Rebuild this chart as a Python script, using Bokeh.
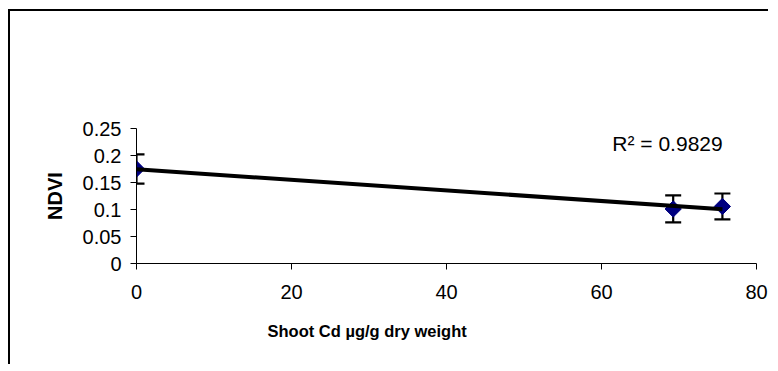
import numpy as np
from bokeh.plotting import figure
from bokeh.models import ColumnDataSource, Whisker, TeeHead, Label, FixedTicker, Range1d, Title
from bokeh.embed import file_html
from bokeh.resources import INLINE

# ---- data ----
cd_shoot = [0.0, 69.25, 75.6]          # Shoot Cd ug/g dry weight
ndvi = [0.175, 0.101, 0.1056]          # NDVI
ndvi_err = [0.027, 0.025, 0.024]       # error bar half-widths
x_ticks = [0, 20, 40, 60, 80]
y_ticks = [0, 0.05, 0.1, 0.15, 0.2, 0.25]
y_tick_labels = ["0", "0.05", "0.1", "0.15", "0.2", "0.25"]
r2_text = "R\u00b2 = 0.9829"
x_title = "Shoot Cd \u00b5g/g dry weight"
y_title = "NDVI"

FONT = "Liberation Sans"

p = figure(width=760, height=355, output_backend="svg", toolbar_location=None,
           x_range=Range1d(0, 80), y_range=Range1d(0, 0.25),
           min_border_left=126, min_border_right=14, min_border_top=117, min_border_bottom=103)
p.styles = {"margin-left": "8px", "margin-top": "9px",
            "border-top": "2px solid black", "border-left": "2px solid black"}
p.outline_line_color = None
p.xgrid.visible = False
p.ygrid.visible = False
p.background_fill_color = "white"
p.border_fill_color = "white"

for ax in (p.xaxis[0], p.yaxis[0]):
    ax.axis_line_color = "black"
    ax.axis_line_width = 1
    ax.major_tick_line_color = "black"
    ax.major_tick_in = 0
    ax.major_tick_out = 6
    ax.minor_tick_line_color = None
    ax.major_label_text_font = FONT
    ax.major_label_text_font_size = "20px"
    ax.major_label_text_color = "black"

p.xaxis.ticker = FixedTicker(ticks=x_ticks)
p.yaxis.ticker = FixedTicker(ticks=y_ticks)
p.yaxis.major_label_overrides = {t: l for t, l in zip(y_ticks, y_tick_labels)}
p.xaxis.major_label_standoff = 15
p.yaxis.major_label_standoff = 9

p.yaxis.axis_label = y_title
p.yaxis.axis_label_text_font = FONT
p.yaxis.axis_label_text_font_size = "20px"
p.yaxis.axis_label_text_font_style = "bold"
p.yaxis.axis_label_text_color = "black"
p.yaxis.axis_label_standoff = 14

src = ColumnDataSource(data=dict(
    x=cd_shoot, y=ndvi,
    lo=[v - e for v, e in zip(ndvi, ndvi_err)],
    hi=[v + e for v, e in zip(ndvi, ndvi_err)],
))

# markers
p.scatter("x", "y", source=src, marker="square", angle=np.pi / 4, size=11.5,
          fill_color="#000080", line_color="#000080")

# error bars
w = Whisker(base="x", upper="hi", lower="lo", source=src, dimension="height",
            line_color="black", line_width=2.2,
            upper_head=TeeHead(size=16, line_color="black", line_width=2.2),
            lower_head=TeeHead(size=16, line_color="black", line_width=2.2))
p.add_layout(w)

# linear trend line
slope, intercept = np.polyfit(cd_shoot, ndvi, 1)
tx = [min(cd_shoot), max(cd_shoot)]
ty = [slope * t + intercept for t in tx]
p.line(tx, ty, line_color="black", line_width=4)

# texts
p.add_layout(Label(x=61.4, y=0.222, text=r2_text, text_font=FONT, text_font_size="21px",
                   text_color="black", text_baseline="middle", text_align="left"))

xt = Title(text=x_title, align="left", offset=131, text_font=FONT, text_font_size="16.5px",
           text_font_style="bold", text_color="black", standoff=36)
p.add_layout(xt, "below")

open("out.html", "w").write(file_html(p, INLINE))
